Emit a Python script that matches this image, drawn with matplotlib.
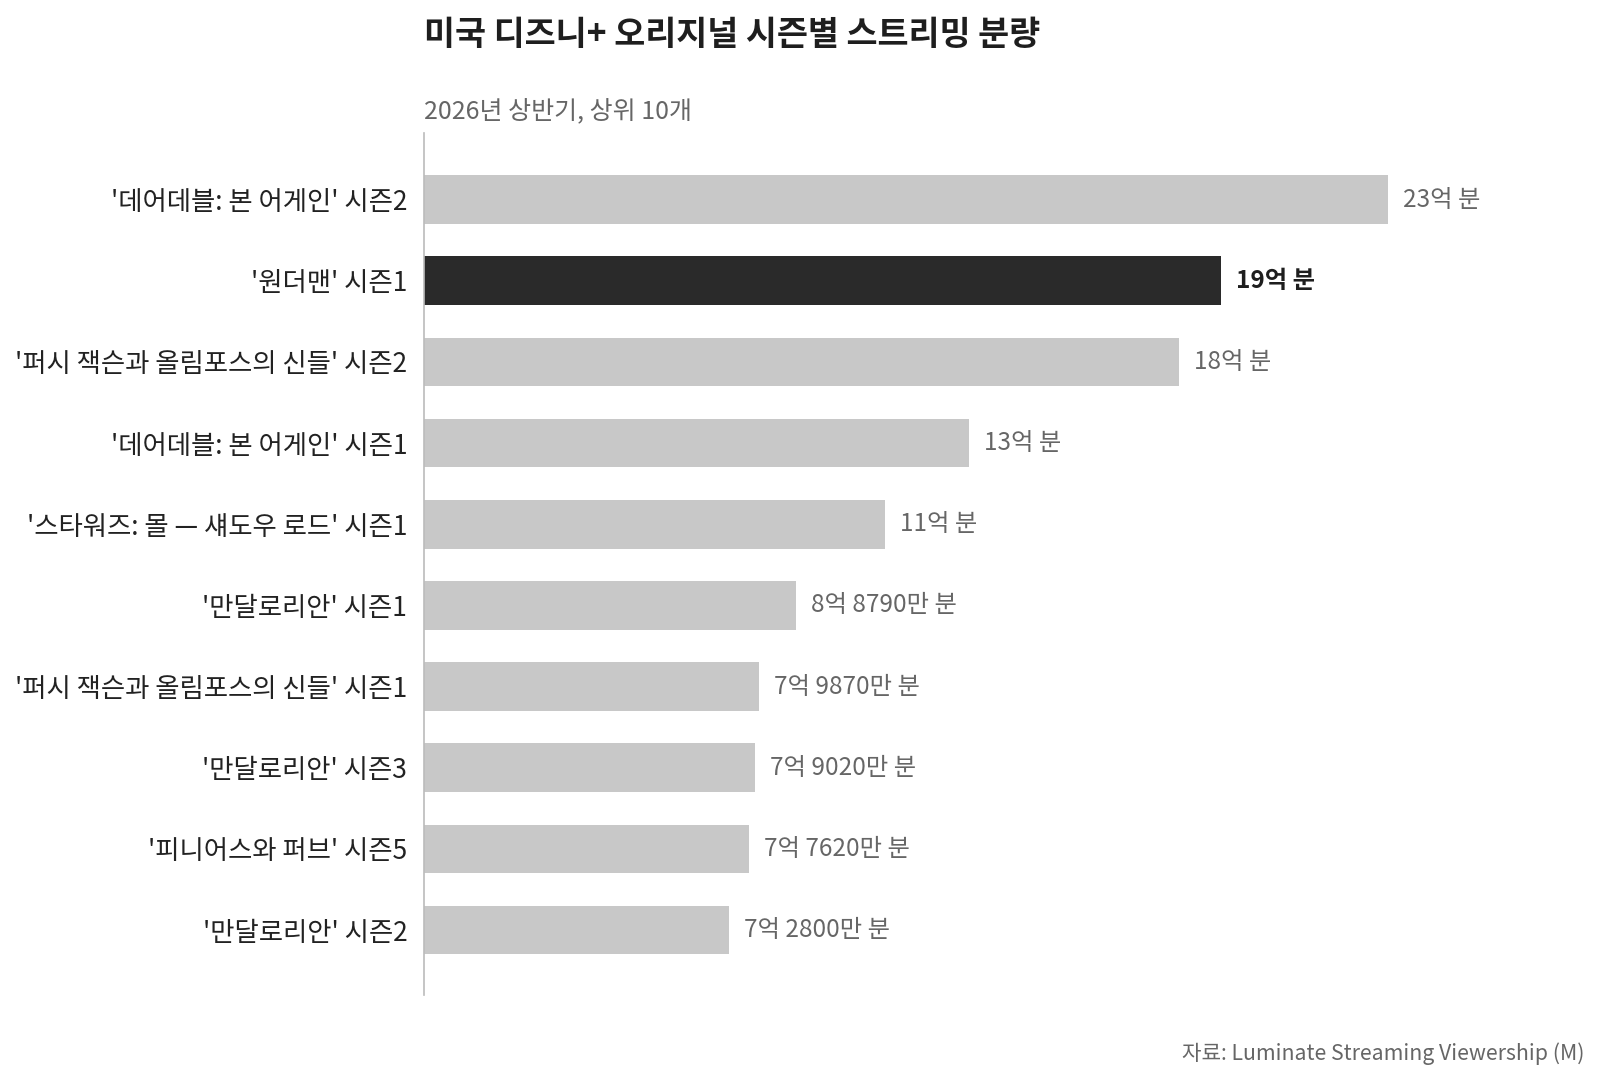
import matplotlib
matplotlib.use("Agg")
import matplotlib.pyplot as plt

plt.rcParams['font.family'] = ['Noto Sans CJK KR', 'DejaVu Sans']

# data (unit: 억 분)
shows = ["'데어데블: 본 어게인' 시즌2", "'원더맨' 시즌1", "'퍼시 잭슨과 올림포스의 신들' 시즌2",
         "'데어데블: 본 어게인' 시즌1", "'스타워즈: 몰 — 섀도우 로드' 시즌1", "'만달로리안' 시즌1",
         "'퍼시 잭슨과 올림포스의 신들' 시즌1", "'만달로리안' 시즌3", "'피니어스와 퍼브' 시즌5",
         "'만달로리안' 시즌2"]
minutes = [23, 19, 18, 13, 11, 8.879, 7.987, 7.902, 7.762, 7.28]
value_labels = ["23억 분", "19억 분", "18억 분", "13억 분", "11억 분", "8억 8790만 분",
                "7억 9870만 분", "7억 9020만 분", "7억 7620만 분", "7억 2800만 분"]
highlight = "'원더맨' 시즌1"

fig = plt.figure(figsize=(16, 10.79), dpi=100)
ax = fig.add_axes([424 / 1600, 1 - 995 / 1079, 1090 / 1600, 862 / 1079])

ypos = list(range(len(shows)))
colors = ['#2a2a2a' if s == highlight else '#c8c8c8' for s in shows]
ax.barh(ypos, minutes, height=0.6, color=colors)

for y, v, lab, s in zip(ypos, minutes, value_labels, shows):
    if s == highlight:
        ax.text(v + 0.36, y, lab, va='center', ha='left', fontsize=17.5,
                color='#1e1e1e', fontweight='bold')
    else:
        ax.text(v + 0.36, y, lab, va='center', ha='left', fontsize=17.5, color='#666666')

ax.set_yticks(ypos)
ax.set_yticklabels(shows, fontsize=19, color='#222222')
ax.tick_params(axis='y', length=0, pad=12)
ax.set_xticks([])
ax.set_xlim(0, 26)
ax.set_ylim(9.8, -0.82)
for side in ['top', 'right', 'bottom']:
    ax.spines[side].set_visible(False)
ax.spines['left'].set_color('#bbbbbb')
ax.spines['left'].set_linewidth(1.2)

fig.text(424 / 1600, 1 - 34 / 1079, "미국 디즈니+ 오리지널 시즌별 스트리밍 분량",
         fontsize=24.3, fontweight='bold', color='#1e1e1e', va='center', ha='left')
fig.text(424 / 1600, 1 - 112 / 1079, "2026년 상반기, 상위 10개",
         fontsize=18, color='#666666', va='center', ha='left')
fig.text(1584 / 1600, 1 - 1054 / 1079, "자료: Luminate Streaming Viewership (M)",
         fontsize=15.3, color='#666666', va='center', ha='right')

fig.savefig("out.png", dpi=100, facecolor='white')
